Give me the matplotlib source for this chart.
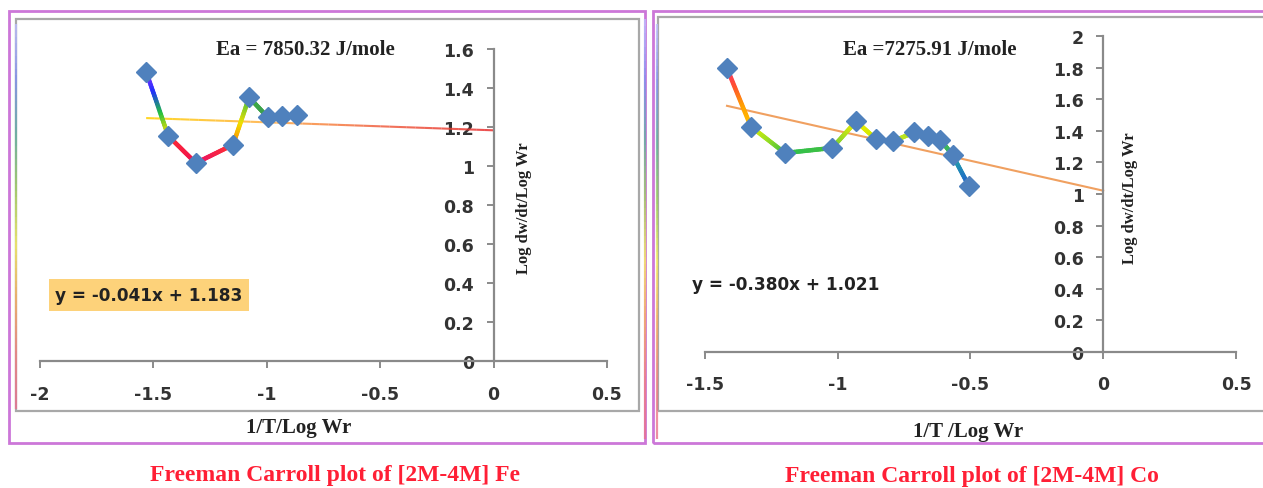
import numpy as np
import matplotlib
matplotlib.use("Agg")
import matplotlib.pyplot as plt
from matplotlib.collections import LineCollection
from matplotlib.colors import LinearSegmentedColormap
from matplotlib.patches import Rectangle
from matplotlib.ticker import FuncFormatter, MultipleLocator

# ---------------- data ----------------
fe_x = [-1.532, -1.435, -1.313, -1.149, -1.078, -0.995, -0.935, -0.867]
fe_y = [1.484, 1.155, 1.015, 1.109, 1.352, 1.249, 1.254, 1.261]
fe_slope, fe_icpt = -0.041, 1.183
fe_ea = "Ea = 7850.32 J/mole"
fe_eq = "y = -0.041x + 1.183"
fe_caption = "Freeman Carroll plot of [2M-4M] Fe"
fe_xlabel = "1/T/Log Wr"

co_x = [-1.416, -1.326, -1.198, -1.020, -0.930, -0.856, -0.791, -0.712,
        -0.660, -0.613, -0.567, -0.505]
co_y = [1.797, 1.427, 1.260, 1.292, 1.461, 1.349, 1.334, 1.391,
        1.370, 1.345, 1.247, 1.049]
co_slope, co_icpt = -0.380, 1.021
co_ea = "Ea =7275.91 J/mole"
co_eq = "y = -0.380x + 1.021"
co_caption = "Freeman Carroll plot of [2M-4M] Co"
co_xlabel = "1/T /Log Wr"

ylabel = "Log dw/dt/Log Wr"

# ---------------- styles ----------------
fe_seg_colors = [
    ["#9b30ff", "#2030ff", "#20c040", "#ffe000"],
    ["#ff3030", "#f01050"],
    ["#e8106a", "#ff3030"],
    ["#ff7a00", "#f0e000", "#40c040"],
    ["#40b040", "#3a9c50"],
    ["#4f81bd", "#4f81bd"],
    ["#4f81bd", "#4f81bd"],
]
co_seg_colors = [
    ["#ff3070", "#ff5030", "#ffa000", "#ffc000"],
    ["#e8f000", "#a0e020", "#40c040"],
    ["#30c050", "#40c040"],
    ["#60c840", "#f0f000"],
    ["#f0f000", "#d0e800"],
    ["#c8e820", "#c8e820"],
    ["#c8e820", "#b0e020"],
    ["#a0d830", "#90d030"],
    ["#80d030", "#70c838"],
    ["#50c040", "#30b070"],
    ["#20b0a0", "#2060d0"],
]

W, H = 1263, 489
fig = plt.figure(figsize=(W / 100, H / 100), dpi=100)
fig.patch.set_facecolor("white")

SERIF = ["Liberation Serif", "DejaVu Serif"]
SANS = ["DejaVu Sans"]
TXT = "#222222"


def fx(px):
    return px / W


def fy(py):
    return 1 - py / H


def gradient_path(ax, xs, ys, seg_colors, lw):
    for i in range(len(xs) - 1):
        cmap = LinearSegmentedColormap.from_list("s%d" % i, seg_colors[i])
        n = 24
        t = np.linspace(0, 1, n + 1)
        px = xs[i] + (xs[i + 1] - xs[i]) * t
        py = ys[i] + (ys[i + 1] - ys[i]) * t
        pts = np.column_stack([px, py]).reshape(-1, 1, 2)
        segs = np.concatenate([pts[:-1], pts[1:]], axis=1)
        cols = [cmap((k + 0.5) / n) for k in range(n)]
        lc = LineCollection(segs, colors=cols, linewidths=lw,
                            capstyle="round", zorder=3)
        ax.add_collection(lc)


def style_axes(ax, xlim, ylim, xstep, ystep):
    ax.set_xlim(*xlim)
    ax.set_ylim(*ylim)
    ax.patch.set_alpha(0)
    for s in ["top", "right"]:
        ax.spines[s].set_visible(False)
    ax.spines["left"].set_position(("data", 0))
    ax.spines["bottom"].set_position(("data", 0))
    for s in ["left", "bottom"]:
        ax.spines[s].set_color("#8a8a8a")
        ax.spines[s].set_linewidth(1.6)
    ax.xaxis.set_major_locator(MultipleLocator(xstep))
    ax.yaxis.set_major_locator(MultipleLocator(ystep))
    fmt = FuncFormatter(lambda v, p: ("%g" % round(v, 2)))
    ax.xaxis.set_major_formatter(fmt)
    ax.yaxis.set_major_formatter(fmt)
    ax.tick_params(axis="x", direction="out", length=5, width=1.4,
                   color="#8a8a8a", pad=12)
    ax.tick_params(axis="y", direction="out", length=5, width=1.4,
                   color="#8a8a8a", pad=9)
    for lab in ax.get_xticklabels() + ax.get_yticklabels():
        lab.set_fontfamily(SANS)
        lab.set_fontweight("bold")
        lab.set_fontsize(12.5)
        lab.set_color("#333333")


# ---------------- frames ----------------
def frame(x0, y0, x1, y1, color, lw):
    r = Rectangle((fx(x0), fy(y1)), fx(x1) - fx(x0), fy(y0) - fy(y1),
                  transform=fig.transFigure, fill=False, edgecolor=color,
                  linewidth=lw, zorder=0)
    fig.add_artist(r)


frame(9, 12, 645, 444, "#cc77d8", 2.0)
frame(653, 12, 1268, 444, "#cc77d8", 2.0)
frame(16, 20, 639, 412, "#a8a8a8", 1.6)
frame(658, 18, 1268, 412, "#a8a8a8", 1.6)

# faint rainbow strips on frame edges
rb = LinearSegmentedColormap.from_list(
    "rb", ["#c0c0ff", "#8090f0", "#60b0a0", "#a0d060", "#f8f060",
           "#f8b060", "#f08080", "#e87090"])


def rainbow_strip(xpx, y0, y1):
    n = 60
    ys = np.linspace(y0, y1, n + 1)
    pts = np.column_stack([np.full(n + 1, fx(xpx)), fy(ys)]).reshape(-1, 1, 2)
    segs = np.concatenate([pts[:-1], pts[1:]], axis=1)
    cols = [rb((k + 0.5) / n) for k in range(n)]
    lc = LineCollection(segs, colors=cols, linewidths=1.6,
                        transform=fig.transFigure, alpha=0.8, zorder=1)
    fig.add_artist(lc)


rainbow_strip(16, 25, 410)
rainbow_strip(645, 20, 440)
rainbow_strip(657, 25, 440)

# ---------------- Fe panel ----------------
ax1 = fig.add_axes([fx(40), fy(362), fx(607) - fx(40), fy(50) - fy(362)])
style_axes(ax1, (-2, 0.5), (0, 1.6), 0.5, 0.2)
tx = np.array([min(fe_x), 0.0])
ty = fe_slope * tx + fe_icpt
tcmap = LinearSegmentedColormap.from_list("tr", ["#ffd000", "#ffb040", "#f06040", "#e83030"])
n = 40
tt = np.linspace(0, 1, n + 1)
pts = np.column_stack([tx[0] + (tx[1] - tx[0]) * tt,
                       ty[0] + (ty[1] - ty[0]) * tt]).reshape(-1, 1, 2)
segs = np.concatenate([pts[:-1], pts[1:]], axis=1)
ax1.add_collection(LineCollection(segs, colors=[tcmap((k + .5) / n) for k in range(n)],
                                  linewidths=1.5, zorder=2, alpha=0.85))
gradient_path(ax1, fe_x, fe_y, fe_seg_colors, 3.2)
ax1.plot(fe_x, fe_y, linestyle="none", marker="D", markersize=10,
         color="#4f81bd", zorder=4, clip_on=False)

fig.text(fx(305), fy(50), fe_ea, ha="center", va="center",
         family=SERIF, weight="bold", fontsize=15, color=TXT)
fig.text(fx(149), fy(296), fe_eq, ha="center", va="center",
         family=SANS, weight="bold", fontsize=12.2, color=TXT,
         bbox=dict(boxstyle="square,pad=0.4", facecolor="#fdd27a",
                   edgecolor="none"))
fig.text(fx(524), fy(208), ylabel, ha="center", va="center", rotation=90,
         family=SERIF, weight="bold", fontsize=12, color=TXT)
fig.text(fx(299), fy(428), fe_xlabel, ha="center", va="center",
         family=SERIF, weight="bold", fontsize=15, color=TXT)
fig.text(fx(335), fy(476), fe_caption, ha="center", va="center",
         family=SERIF, weight="bold", fontsize=17, color="#ff1f35")

# ---------------- Co panel ----------------
ax2 = fig.add_axes([fx(704.7), fy(352.7), fx(1236) - fx(704.7), fy(37.3) - fy(352.7)])
style_axes(ax2, (-1.5, 0.5), (0, 2.0), 0.5, 0.2)
tx2 = np.array([min(co_x), 0.0])
ty2 = co_slope * tx2 + co_icpt
ax2.plot(tx2, ty2, color="#f0a060", linewidth=1.5, zorder=2)
gradient_path(ax2, co_x, co_y, co_seg_colors, 3.2)
ax2.plot(co_x, co_y, linestyle="none", marker="D", markersize=10,
         color="#4f81bd", zorder=4, clip_on=False)

fig.text(fx(930), fy(50), co_ea, ha="center", va="center",
         family=SERIF, weight="bold", fontsize=15, color=TXT)
fig.text(fx(786), fy(285), co_eq, ha="center", va="center",
         family=SANS, weight="bold", fontsize=12.2, color=TXT)
fig.text(fx(1130), fy(198), ylabel, ha="center", va="center", rotation=90,
         family=SERIF, weight="bold", fontsize=12, color=TXT)
fig.text(fx(968), fy(432), co_xlabel, ha="center", va="center",
         family=SERIF, weight="bold", fontsize=15, color=TXT)
fig.text(fx(972), fy(477), co_caption, ha="center", va="center",
         family=SERIF, weight="bold", fontsize=17, color="#ff1f35")

fig.savefig("out.png", dpi=100, facecolor="white")
